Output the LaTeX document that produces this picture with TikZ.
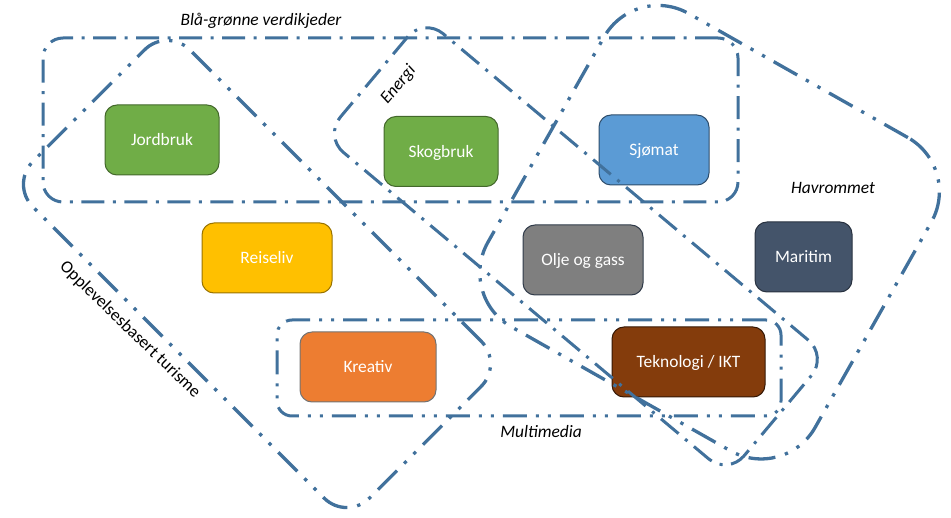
\documentclass[tikz,border=0pt]{standalone}
\usepackage{fontspec}
\setmainfont{Carlito}
\newcommand{\myfs}{\fontsize{17.4}{21}\selectfont}
\definecolor{ln}{RGB}{65,113,156}
\definecolor{cgreen}{HTML}{70AD47}
\definecolor{cblue}{HTML}{5B9BD5}
\definecolor{cgold}{HTML}{FFC000}
\definecolor{cgray}{HTML}{7F7F7F}
\definecolor{cnavy}{HTML}{44546A}
\definecolor{corange}{HTML}{ED7D31}
\definecolor{cbrown}{HTML}{843C0C}
\tikzset{
  dashdotline/.style={draw=ln, line width=3pt, dash pattern=on 23pt off 8.5pt on 3pt off 8.5pt},
  dashdotdotline/.style={draw=ln, line width=3.3pt, dash pattern=on 27pt off 10pt on 3.3pt off 10pt on 3.3pt off 10pt},
  mmline/.style={draw=ln, line width=3pt, dash pattern=on 24pt off 9pt on 3pt off 9pt on 3pt off 9pt},
  region/.style={inner sep=0pt, outer sep=0pt},
  box/.style={rounded corners=12pt, line width=1pt, text=white, inner sep=0pt,
    font=\myfs, text height=13pt, text depth=1pt, minimum height=70pt},
  lab/.style={font=\myfs, inner sep=0pt, text=black}
}
\begin{document}
\begin{tikzpicture}[x=1pt,y=-1pt]
\useasboundingbox (0,0) rectangle (951,518);
% boxes
\node[box, fill=cgreen, draw=cgreen!60!black, minimum width=114pt] (jordbruk) at (162,140) {Jordbruk};
\node[box, fill=cgreen, draw=cgreen!60!black, minimum width=114pt] (skogbruk) at (441,151.5) {Skogbruk};
\node[box, fill=cblue, draw=cblue!50!black, minimum width=110pt] (sjomat) at (654,150) {Sjømat};
\node[box, fill=cgold, draw=cgold!60!black, minimum width=130pt] (reiseliv) at (267,258) {Reiseliv};
\node[box, fill=cgray, draw=cnavy!70!black, minimum width=120pt] (olje) at (583,260) {Olje og gass};
\node[box, fill=cnavy, draw=cnavy!60!black, minimum width=97pt] (maritim) at (803.5,257) {Maritim};
\node[box, fill=corange, draw=black!55, minimum width=136pt] (kreativ) at (368,367) {Kreativ};
\node[box, fill=cbrown, draw=cbrown!40!black, minimum width=153pt] (tekno) at (688.5,362) {Teknologi / IKT};
% regions
\node[region, dashdotline, rounded corners=20pt, minimum width=695pt, minimum height=164pt] (blaagronn) at (390.5,120) {};
\node[region, mmline, rounded corners=15pt, minimum width=504pt, minimum height=96pt] (multimedia) at (529,368) {};
\node[region, dashdotdotline, rounded corners=32pt, rotate=-45, minimum width=476pt, minimum height=222pt] (opplevelse) at (257,274) {};
\node[region, dashdotline, rounded corners=25pt, rotate=-40, minimum width=527pt, minimum height=155pt] (energi) at (575.9,246.3) {};
\node[region, dashdotdotline, rounded corners=62pt, rotate=-29.5, minimum width=376pt, minimum height=360pt] (havrommet) at (709.6,232.2) {};
% labels
\node[lab, anchor=base] (lblbg) at (261,25.7) {\itshape Blå-grønne verdikjeder};
\node[lab, rotate=50] (lblen) at (398.5,85) {\itshape Energi};
\node[lab, anchor=base] (lblhav) at (833,194) {\itshape Havrommet};
\node[lab, anchor=base] (lblmm) at (541,438) {\itshape Multimedia};
\node[lab, rotate=-44] (lblopp) at (130,330) {Opplevelsesbasert turisme};
\end{tikzpicture}
\end{document}
